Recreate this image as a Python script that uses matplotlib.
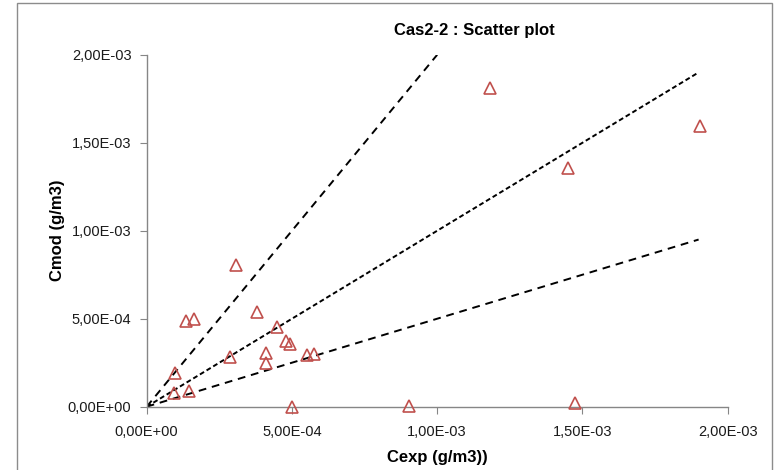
import matplotlib.pyplot as plt
from matplotlib.patches import Rectangle

plt.rcParams['font.family'] = ['Liberation Sans Narrow', 'Liberation Sans', 'DejaVu Sans']

# measured vs modelled concentrations (g/m3)
cexp = [0.094e-3, 0.097e-3, 0.146e-3, 0.134e-3, 0.164e-3, 0.309e-3, 0.287e-3,
        0.381e-3, 0.412e-3, 0.410e-3, 0.449e-3, 0.478e-3, 0.493e-3, 0.499e-3,
        0.553e-3, 0.576e-3, 0.904e-3, 1.181e-3, 1.449e-3, 1.473e-3, 1.904e-3]
cmod = [0.076e-3, 0.191e-3, 0.091e-3, 0.488e-3, 0.496e-3, 0.804e-3, 0.280e-3,
        0.539e-3, 0.303e-3, 0.246e-3, 0.454e-3, 0.374e-3, 0.354e-3, 0.0,
        0.293e-3, 0.299e-3, 0.002e-3, 1.813e-3, 1.359e-3, 0.022e-3, 1.598e-3]

# reference lines: factor 2, 1:1, factor 0.5
line_x2 = [0, 1.0e-3]
line_y2 = [0, 2.0e-3]
line_x1 = [0, 1.9e-3]
line_y1 = [0, 1.9e-3]
line_xh = [0, 1.9e-3]
line_yh = [0, 0.95e-3]

xticks = [0, 0.5e-3, 1.0e-3, 1.5e-3, 2.0e-3]
xlabels = ["0,00E+00", "5,00E-04", "1,00E-03", "1,50E-03", "2,00E-03"]
yticks = [0, 0.5e-3, 1.0e-3, 1.5e-3, 2.0e-3]
ylabels = ["0,00E+00", "5,00E-04", "1,00E-03", "1,50E-03", "2,00E-03"]

fig = plt.figure(figsize=(7.79, 4.70), dpi=100)
ax = fig.add_axes([0.1883, 0.1347, 0.7458, 0.7487])

# chart area border
fig.patches.append(Rectangle((17 / 779, -0.05), 755 / 779, 1.05 - 3 / 470,
                             transform=fig.transFigure, fill=False,
                             edgecolor="#8c8c8c", linewidth=1.0))

ax.plot(line_x2, line_y2, color="black", linestyle=(0, (4, 3)), linewidth=1.4)
ax.plot(line_x1, line_y1, color="black", linestyle=(0, (2.5, 1.5)), linewidth=1.4)
ax.plot(line_xh, line_yh, color="black", linestyle=(0, (4, 3)), linewidth=1.4)

ax.plot(cexp, cmod, linestyle="none", marker="^", markersize=8,
        markerfacecolor="none", markeredgecolor="#C0504D", markeredgewidth=1.2,
        clip_on=False, zorder=5)

ax.set_xlim(0, 2.0e-3)
ax.set_ylim(0, 2.0e-3)
ax.set_xticks(xticks)
ax.set_xticklabels(xlabels)
ax.set_yticks(yticks)
ax.set_yticklabels(ylabels)

for side in ["top", "right"]:
    ax.spines[side].set_visible(False)
for side in ["left", "bottom"]:
    ax.spines[side].set_color("#868686")
    ax.spines[side].set_linewidth(1.0)
ax.tick_params(direction="out", length=5, color="#868686", labelsize=10.5,
               labelcolor="#1a1a1a")
ax.tick_params(axis="x", pad=8)
ax.tick_params(axis="y", pad=6)

ax.set_xlabel("Cexp (g/m3))", fontsize=12, fontweight="bold", labelpad=8)
ax.set_ylabel("Cmod (g/m3)", fontsize=12, fontweight="bold", labelpad=2)
fig.text(474 / 779, 1 - 30 / 470, "Cas2-2 : Scatter plot", fontsize=12,
         fontweight="bold", ha="center", va="center")

fig.savefig("out.png", dpi=100)
